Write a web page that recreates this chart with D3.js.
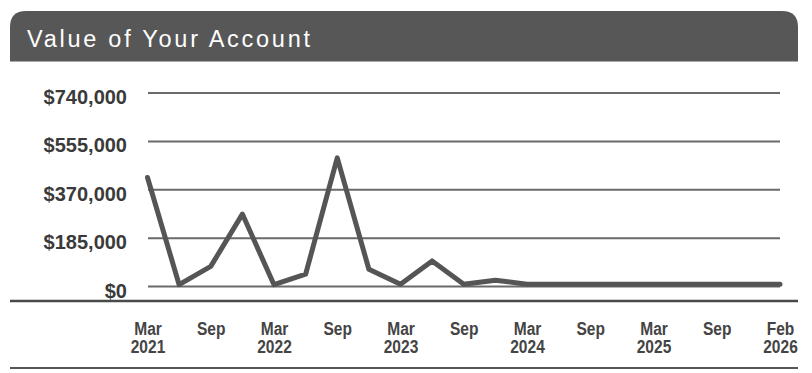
<!DOCTYPE html>
<html>
<head>
<meta charset="utf-8">
<script src="https://cdn.jsdelivr.net/npm/d3@7"></script>
<style>
  html, body { margin: 0; padding: 0; background: #fff; }
  svg { display: block; }
</style>
</head>
<body>
<svg id="chart" width="812" height="373"></svg>
<script>
// Quarter-end periods, evenly spaced along the time axis
const periods = [
  "Mar 2021", "Jun 2021", "Sep 2021", "Dec 2021",
  "Mar 2022", "Jun 2022", "Sep 2022", "Dec 2022",
  "Mar 2023", "Jun 2023", "Sep 2023", "Dec 2023",
  "Mar 2024", "Jun 2024", "Sep 2024", "Dec 2024",
  "Mar 2025", "Jun 2025", "Sep 2025", "Dec 2025",
  "Feb 2026"
];

// Account value at each period (USD)
const accountValues = [
  415000, 5000, 75000, 275000,
  5000, 45000, 490000, 64000,
  7000, 96000, 7000, 22000,
  7000, 7000, 7000, 7000,
  7000, 7000, 7000, 7000,
  7000
];

// Y-axis tick values
const yTicks = [0, 185000, 370000, 555000, 740000];

// X-axis tick labels: [period, first line, second line]
const xTickLabels = [
  ["Mar 2021", "Mar", "2021"],
  ["Sep 2021", "Sep", ""],
  ["Mar 2022", "Mar", "2022"],
  ["Sep 2022", "Sep", ""],
  ["Mar 2023", "Mar", "2023"],
  ["Sep 2023", "Sep", ""],
  ["Mar 2024", "Mar", "2024"],
  ["Sep 2024", "Sep", ""],
  ["Mar 2025", "Mar", "2025"],
  ["Sep 2025", "Sep", ""],
  ["Feb 2026", "Feb", "2026"]
];

const title = "Value of Your Account";

const svg = d3.select("#chart");
const ink = "#555555";

// Header band with rounded top corners
const hx0 = 10, hx1 = 798, hy0 = 11, hy1 = 61.5, r = 16;
svg.append("path")
  .attr("d", `M${hx0},${hy1} L${hx0},${hy0 + r} Q${hx0},${hy0} ${hx0 + r},${hy0} L${hx1 - r},${hy0} Q${hx1},${hy0} ${hx1},${hy0 + r} L${hx1},${hy1} Z`)
  .attr("fill", "#575757");

svg.append("text")
  .attr("x", 27)
  .attr("y", 47)
  .attr("fill", "#ffffff")
  .attr("font-family", "Liberation Sans, Arial, sans-serif")
  .attr("font-size", 23.5)
  .attr("textLength", 283)
  .attr("lengthAdjust", "spacing")
  .text(title);

// Scales
const x = d3.scalePoint().domain(periods).range([147.5, 780]);
const y = d3.scaleLinear().domain([0, 740000]).range([286, 92.5]);

// Gridlines + y labels via axis
const yAxis = d3.axisLeft(y)
  .tickValues(yTicks)
  .tickSize(-(780 - 148))
  .tickPadding(21)
  .tickFormat(d => "$" + d3.format(",")(d));

const gy = svg.append("g")
  .attr("transform", "translate(148,0)")
  .call(yAxis);
gy.select(".domain").remove();
gy.selectAll(".tick line")
  .attr("stroke", "#6a6a6a")
  .attr("stroke-width", 2);
gy.selectAll(".tick text")
  .attr("fill", "#3a3a3a")
  .attr("font-family", "Liberation Sans, Arial, sans-serif")
  .attr("font-weight", "bold")
  .attr("font-size", 20)
  .attr("dy", "0.55em");

// Value line
const line = d3.line()
  .x((d, i) => x(periods[i]))
  .y(d => y(d));

svg.append("path")
  .datum(accountValues)
  .attr("d", line)
  .attr("fill", "none")
  .attr("stroke", ink)
  .attr("stroke-width", 5)
  .attr("stroke-linejoin", "round")
  .attr("stroke-linecap", "round");

// Separator under the plot
svg.append("line")
  .attr("x1", 10).attr("x2", 798)
  .attr("y1", 301).attr("y2", 301)
  .attr("stroke", "#4a4a4a")
  .attr("stroke-width", 2.5);

// X-axis labels (bold, horizontally condensed)
const xAxis = d3.axisBottom(x)
  .tickValues(xTickLabels.map(d => d[0]))
  .tickSize(0)
  .tickFormat(() => "");

const gx = svg.append("g")
  .attr("transform", "translate(0,310)")
  .call(xAxis);
gx.select(".domain").remove();

const labelLookup = new Map(xTickLabels.map(d => [d[0], d]));
gx.selectAll(".tick").each(function(p) {
  const t = d3.select(this).select("text")
    .attr("fill", "#444")
    .attr("font-family", "Liberation Sans, Arial, sans-serif")
    .attr("font-weight", "bold")
    .attr("font-size", 18.5)
    .attr("transform", "scale(0.84,1)")
    .attr("y", 0)
    .attr("dy", 0);
  const lab = labelLookup.get(p);
  t.append("tspan").attr("x", 0).attr("y", 25).text(lab[1]);
  if (lab[2]) t.append("tspan").attr("x", 0).attr("y", 43.5).text(lab[2]);
});

// Bottom rule
svg.append("line")
  .attr("x1", 10).attr("x2", 798)
  .attr("y1", 368).attr("y2", 368)
  .attr("stroke", "#555")
  .attr("stroke-width", 2);
</script>
</body>
</html>
